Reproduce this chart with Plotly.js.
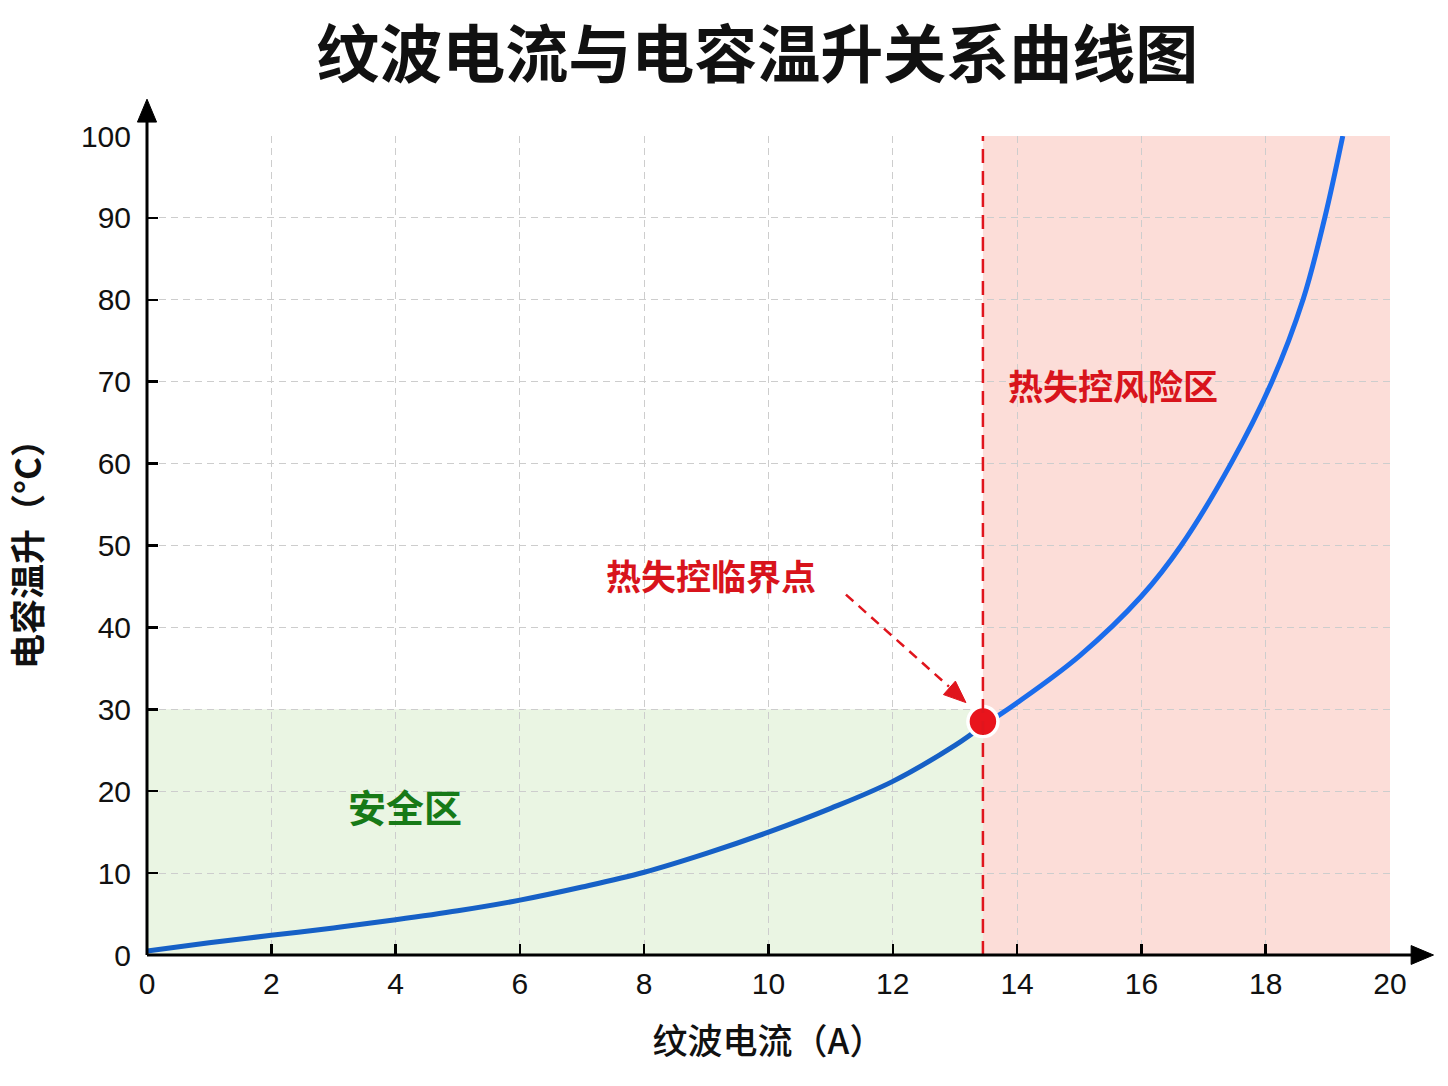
<!DOCTYPE html>
<html>
<head>
<meta charset="utf-8">
<script src="https://cdn.plot.ly/plotly-3.0.1.min.js"></script>
<style>
html,body{margin:0;padding:0;background:#ffffff;}
#chart{width:1448px;height:1086px;}
</style>
</head>
<body>
<div id="chart"></div>
<script>
// ---- data ----
const safeCurrent = [0, 1, 2, 3, 4, 5, 6, 7, 8, 9, 10, 11, 12, 13, 13.45];
const safeTemp    = [0.5, 1.5, 2.4, 3.3, 4.3, 5.4, 6.7, 8.3, 10.1, 12.4, 15.0, 17.9, 21.2, 25.6, 28.0];
const riskCurrent = [13.45, 14, 15, 16, 16.64, 17.44, 18.1, 18.6, 18.95, 19.24];
const riskTemp    = [28.0, 30.8, 36.5, 43.8, 50, 60, 70, 80, 90, 100];
const criticalCurrent = [13.45];
const criticalTemp    = [28.5];
const safeLimitTemp = 30;
const xTickVals = [0, 2, 4, 6, 8, 10, 12, 14, 16, 18, 20];
const yTickVals = [0, 10, 20, 30, 40, 50, 60, 70, 80, 90, 100];
const xMax = 20, yMax = 100;

const titleText = '纹波电流与电容温升关系曲线图';
const xTitleText = '纹波电流（A）';
const yTitleText = '电容温升（°C）';
const safeLabel = '安全区';
const riskLabel = '热失控风险区';
const criticalLabel = '热失控临界点';

const CJK = '"Noto Sans CJK SC", "Noto Sans", sans-serif';
const NUM = '"Liberation Sans", Arial, sans-serif';
const RED = '#e0151d';

const critX = criticalCurrent[0], critY = criticalTemp[0];

const traces = [
  {
    x: safeCurrent, y: safeTemp, type: 'scatter', mode: 'lines',
    line: {color: '#1660c6', width: 5, shape: 'spline', smoothing: 1},
    hoverinfo: 'skip', showlegend: false, cliponaxis: false
  },
  {
    x: riskCurrent, y: riskTemp, type: 'scatter', mode: 'lines',
    line: {color: '#1a6cec', width: 5, shape: 'spline', smoothing: 1},
    hoverinfo: 'skip', showlegend: false, cliponaxis: false
  },
  {
    x: criticalCurrent, y: criticalTemp, type: 'scatter', mode: 'markers',
    marker: {color: '#e8141c', size: 30, line: {color: '#ffffff', width: 3.5}},
    hoverinfo: 'skip', showlegend: false, cliponaxis: false
  }
];

const shapes = [
  {type: 'rect', xref: 'x', yref: 'y', x0: 0, x1: critX, y0: 0, y1: safeLimitTemp,
   fillcolor: '#eaf5e3', line: {width: 0}, layer: 'below'},
  {type: 'rect', xref: 'x', yref: 'y', x0: critX, x1: xMax, y0: 0, y1: yMax,
   fillcolor: '#fcddd8', line: {width: 0}, layer: 'below'},
  {type: 'line', xref: 'x', yref: 'y', x0: critX, x1: critX, y0: 0, y1: yMax,
   line: {color: RED, width: 2.5, dash: '14px,8px'}, layer: 'above'},
  {type: 'line', xref: 'x', yref: 'y', xsizemode: 'pixel', ysizemode: 'pixel',
   xanchor: critX, yanchor: critY, x0: -137, y0: 127, x1: -34, y1: 35,
   line: {color: RED, width: 2.5, dash: '10px,7px'}, layer: 'above'},
  {type: 'path', xref: 'x', yref: 'y', xsizemode: 'pixel', ysizemode: 'pixel',
   xanchor: critX, yanchor: critY,
   path: 'M -17 19 L -39.5 27 L -27.5 40.5 Z',
   fillcolor: RED, line: {color: RED, width: 1}, layer: 'above'},
  {type: 'line', xref: 'paper', yref: 'paper', x0: 0, x1: 0, y0: 0, y1: 1.02,
   line: {color: '#000', width: 3}, layer: 'above'},
  {type: 'path', xref: 'paper', yref: 'paper',
   path: 'M -0.0077 1.017 L 0.0077 1.017 L 0 1.045 Z',
   fillcolor: '#000', line: {color: '#000', width: 1}, layer: 'above'},
  {type: 'line', xref: 'paper', yref: 'paper', x0: 0, x1: 1.02, y0: 0, y1: 0,
   line: {color: '#000', width: 3}, layer: 'above'},
  {type: 'path', xref: 'paper', yref: 'paper',
   path: 'M 1.017 -0.0115 L 1.017 0.0115 L 1.035 0 Z',
   fillcolor: '#000', line: {color: '#000', width: 1}, layer: 'above'}
];

const annotations = [
  {x: 4.15, y: 18.3, xref: 'x', yref: 'y', text: '<b>' + safeLabel + '</b>', showarrow: false,
   font: {family: CJK, size: 38, color: '#177a17'}},
  {x: 15.55, y: 69.7, xref: 'x', yref: 'y', text: '<b>' + riskLabel + '</b>', showarrow: false,
   font: {family: CJK, size: 35, color: '#d8141c'}},
  {x: 9.07, y: 46.4, xref: 'x', yref: 'y', text: '<b>' + criticalLabel + '</b>', showarrow: false,
   font: {family: CJK, size: 35, color: '#d8141c'}}
];

const axisCommon = {
  showgrid: true, gridcolor: '#cdcdcd', gridwidth: 1, griddash: '7px,5px',
  zeroline: false, showline: false,
  ticks: 'inside', ticklen: 11, tickwidth: 2.5, tickcolor: '#000',
  tickfont: {family: NUM, size: 30, color: '#111'},
  fixedrange: true, automargin: false
};

const layout = {
  width: 1448, height: 1086,
  margin: {l: 147, r: 58, t: 136, b: 131},
  paper_bgcolor: '#ffffff', plot_bgcolor: '#ffffff',
  title: {
    text: '<b>' + titleText + '</b>',
    font: {family: CJK, size: 63, color: '#111', weight: 900},
    x: 0.523, xref: 'container', xanchor: 'center',
    y: 0.949, yref: 'container', yanchor: 'middle'
  },
  xaxis: Object.assign({}, axisCommon, {
    range: [0, xMax], tickmode: 'array', tickvals: xTickVals,
    ticklabelstandoff: 8,
    title: {text: xTitleText, font: {family: CJK, size: 35, color: '#111', weight: 500}, standoff: 30}
  }),
  yaxis: Object.assign({}, axisCommon, {
    range: [0, yMax], tickmode: 'array', tickvals: yTickVals,
    ticklabelstandoff: 15,
    title: {text: '<b>' + yTitleText + '</b>', font: {family: CJK, size: 35, color: '#111'}, standoff: 28}
  }),
  shapes: shapes,
  annotations: annotations,
  showlegend: false
};

Plotly.newPlot('chart', traces, layout, {displayModeBar: false, staticPlot: true});
</script>
</body>
</html>
